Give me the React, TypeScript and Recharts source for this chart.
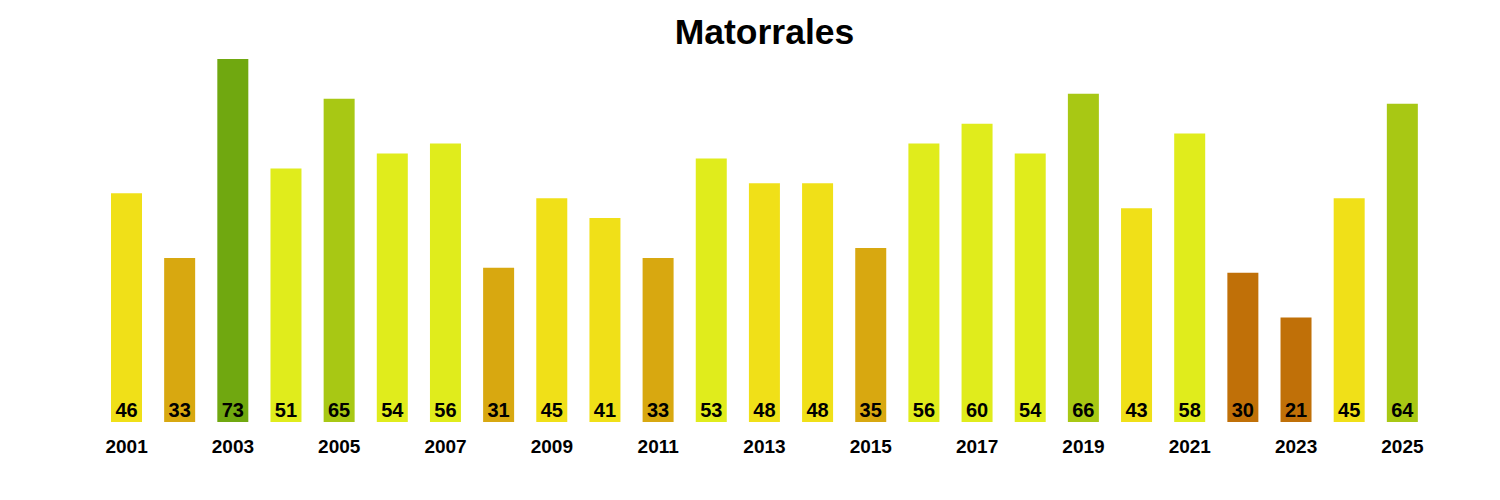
import React from 'react'
import { BarChart, Bar, XAxis, YAxis, Cell, LabelList } from 'recharts'

const years = [
  '2001', '2002', '2003', '2004', '2005', '2006', '2007', '2008', '2009', '2010',
  '2011', '2012', '2013', '2014', '2015', '2016', '2017', '2018', '2019', '2020',
  '2021', '2022', '2023', '2024', '2025',
]
const counts = [46, 33, 73, 51, 65, 54, 56, 31, 45, 41, 33, 53, 48, 48, 35, 56, 60, 54, 66, 43, 58, 30, 21, 45, 64]
const tickYears = ['2001', '2003', '2005', '2007', '2009', '2011', '2013', '2015', '2017', '2019', '2021', '2023', '2025']

const FONT = '"Liberation Sans", Arial, sans-serif'

// colour by bins of ten
const colorFor = (v: number) => {
  if (v <= 30) return '#C07008'
  if (v <= 40) return '#D8A810'
  if (v <= 50) return '#F0E018'
  if (v <= 60) return '#E0EC1C'
  if (v <= 70) return '#A8C814'
  return '#70A810'
}

const data = years.map((year, i) => ({ year, value: counts[i] }))

const App = () => {
  return (
    <div style={{ position: 'relative', width: 1484, height: 484, fontFamily: FONT }}>
      <div
        style={{
          position: 'absolute',
          left: 92,
          width: 1329,
          top: 4,
          textAlign: 'center',
          fontSize: 35.5,
          fontWeight: 'bold',
          color: '#000',
        }}
      >
        Matorrales
      </div>
      <BarChart
        width={1484}
        height={484}
        data={data}
        margin={{ top: 51, right: 63, bottom: 40, left: 92 }}
        barSize={31}
      >
        <XAxis
          dataKey="year"
          ticks={tickYears}
          interval={0}
          axisLine={false}
          tickLine={false}
          height={30}
          tick={{ fill: '#000', fontSize: 19, fontWeight: 'bold', fontFamily: FONT }}
          dy={10}
        />
        <YAxis hide domain={[0, 73]} />
        <Bar dataKey="value" isAnimationActive={false}>
          {data.map((d, i) => (
            <Cell key={`cell-${i}`} fill={colorFor(d.value)} />
          ))}
          <LabelList
            dataKey="value"
            position="insideBottom"
            offset={5}
            fill="#000"
            fontSize={20}
            fontWeight="bold"
            fontFamily={FONT}
          />
        </Bar>
      </BarChart>
    </div>
  )
}

export default App
